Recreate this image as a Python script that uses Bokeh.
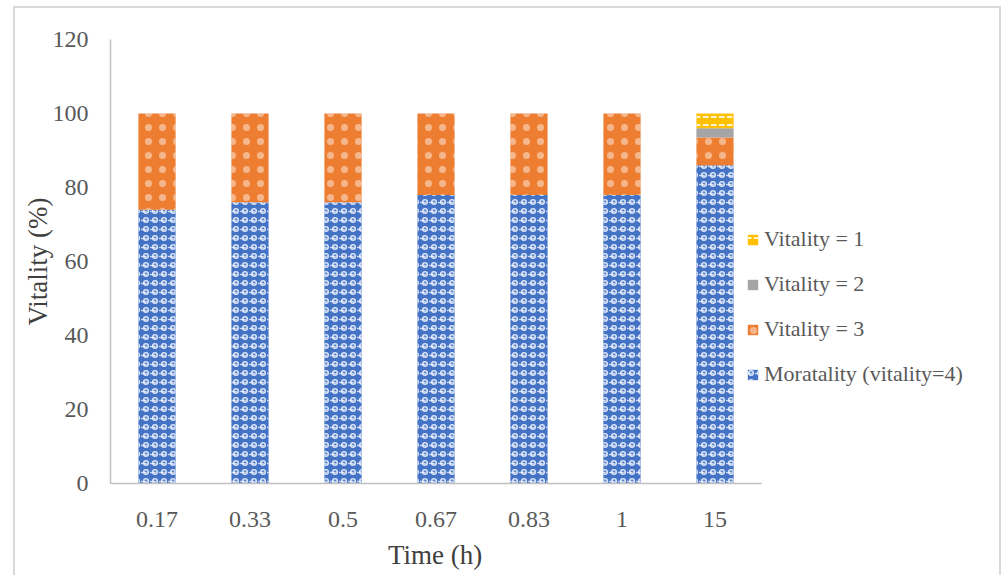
from bokeh.plotting import figure
from bokeh.models import (Range1d, FixedTicker, Legend, LegendItem,
                          ColumnDataSource, Title)
from bokeh.transform import stack
from bokeh.embed import file_html
from bokeh.resources import INLINE

# Exposure time categories and the share of animals in each vitality class (%)
times = ["0.17", "0.33", "0.5", "0.67", "0.83", "1", "15"]
mortality = [74, 76, 76, 78, 78, 78, 86]
vitality3 = [26, 24, 24, 22, 22, 22, 7.5]
vitality2 = [0, 0, 0, 0, 0, 0, 2.5]
vitality1 = [0, 0, 0, 0, 0, 0, 4]
y_ticks = [0, 20, 40, 60, 80, 100, 120]

FONT = "Liberation Serif"
TEXT = "#595959"
AXIS = "#bfbfbf"

# one slot per time category, bars centred in their slot
n = len(times)
pos = [i + 0.5 for i in range(n)]

source = ColumnDataSource(dict(x=pos, m=mortality, v3=vitality3,
                               v2=vitality2, v1=vitality1))

FRAME_W = 880          # plotting area incl. room on the right for the legend
AXIS_W = 651           # width taken by the seven category slots
p = figure(x_range=Range1d(0, n * FRAME_W / AXIS_W), y_range=Range1d(0, 120),
           width=988, height=590, output_backend="svg", toolbar_location=None,
           min_border_left=95, min_border_right=988 - 95 - FRAME_W,
           min_border_top=31, min_border_bottom=115, margin=(6, 0, 0, 13),
           styles={"border": "2px solid #d9d9d9"})

W = 0.4
r_m = p.vbar(x="x", width=W, bottom=0, top=stack("m"), source=source,
             fill_color="#4472c4", line_color=None,
             hatch_pattern="ring", hatch_color="#dbe5f6", hatch_scale=9,
             hatch_weight=1.6)
r_m2 = p.vbar(x="x", width=W, bottom=0, top=stack("m"), source=source,
              fill_alpha=0, line_color=None,
              hatch_pattern="horizontal_dash", hatch_color="#eef3fb",
              hatch_scale=9, hatch_weight=1.4, hatch_alpha=0.8)
r_3 = p.vbar(x="x", width=W, bottom=stack("m"), top=stack("m", "v3"),
             source=source, fill_color="#ed7d31", line_color=None,
             hatch_pattern="dot", hatch_color="#fdf0e6", hatch_scale=14,
             hatch_weight=1, hatch_alpha=0.5)
r_2 = p.vbar(x="x", width=W, bottom=stack("m", "v3"),
             top=stack("m", "v3", "v2"), source=source,
             fill_color="#a5a5a5", line_color=None)
r_1 = p.vbar(x="x", width=W, bottom=stack("m", "v3", "v2"),
             top=stack("m", "v3", "v2", "v1"), source=source,
             fill_color="#ffc000", line_color=None,
             hatch_pattern="horizontal_dash", hatch_color="#fff4d0",
             hatch_scale=8, hatch_weight=2)

legend = Legend(items=[
    LegendItem(label="Vitality = 1", renderers=[r_1]),
    LegendItem(label="Vitality = 2", renderers=[r_2]),
    LegendItem(label="Vitality = 3", renderers=[r_3]),
    LegendItem(label="Moratality (vitality=4)", renderers=[r_m, r_m2]),
], location=(636, 96), orientation="vertical",
    glyph_width=13, glyph_height=13, label_height=22, spacing=19,
    label_text_font=FONT, label_text_font_size="22px",
    label_text_color=TEXT, label_standoff=5,
    padding=0, margin=0, border_line_alpha=0, background_fill_alpha=0)
p.add_layout(legend, "center")

p.outline_line_color = None
p.xgrid.grid_line_color = None
p.ygrid.grid_line_color = None

p.yaxis.ticker = FixedTicker(ticks=y_ticks)
p.xaxis.ticker = FixedTicker(ticks=pos)
p.xaxis.major_label_overrides = {x: t for x, t in zip(pos, times)}
p.xaxis.bounds = (0, n)

for ax in (p.xaxis[0], p.yaxis[0]):
    ax.axis_line_color = AXIS
    ax.axis_line_width = 1.5
    ax.major_tick_line_color = None
    ax.minor_tick_line_color = None
    ax.major_tick_out = 0
    ax.major_tick_in = 0
    ax.major_label_text_font = FONT
    ax.major_label_text_font_size = "24px"
    ax.major_label_text_color = TEXT

p.yaxis.axis_label = "Vitality (%)"
p.yaxis.axis_label_text_font = FONT
p.yaxis.axis_label_text_font_size = "27px"
p.yaxis.axis_label_text_font_style = "normal"
p.yaxis.axis_label_text_color = "#404040"
p.yaxis.major_label_standoff = 22
p.yaxis.axis_label_standoff = -3
p.xaxis.major_label_standoff = 28

# x-axis title, centred under the category slots rather than the whole frame
p.add_layout(Title(text="Time (h)", align="left", offset=AXIS_W / 2 - 48,
                   standoff=16, text_font=FONT, text_font_size="27px",
                   text_font_style="normal", text_color="#404040"), "below")

open("out.html", "w").write(file_html(p, INLINE))
